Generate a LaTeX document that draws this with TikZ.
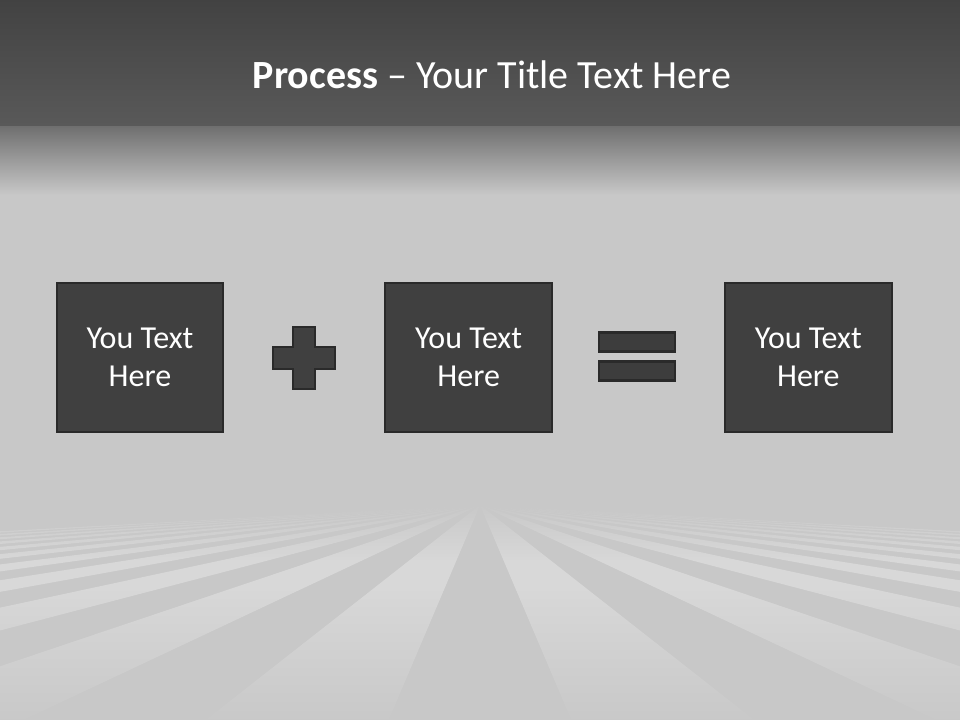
\documentclass[tikz,border=0pt]{standalone}
\usepackage{fontspec}
\setmainfont{Carlito}
\usepackage{xcolor}
\usepackage{tikz}
\usetikzlibrary{calc,positioning,fadings}

\definecolor{bgcol}{HTML}{C8C8C8}
\definecolor{boxcol}{HTML}{404040}
\definecolor{edgecol}{HTML}{2A2A2A}

\tikzfading[name=fadetop, top color=transparent!0, bottom color=transparent!100]
\tikzfading[name=fadebot, top color=transparent!100, bottom color=transparent!5]

\begin{document}
\begin{tikzpicture}[x=0.75pt,y=-0.75pt,node distance=120pt,
  textbox/.style={draw=edgecol, fill=boxcol, line width=1.5pt, minimum width=125pt,
    minimum height=111pt, align=center, text=white, font=\fontsize{24}{29}\selectfont},
  bar/.style={draw=edgecol, fill=boxcol!95!black, line width=2.2pt, minimum width=57pt,
    minimum height=14.5pt, inner sep=0pt},
  sign/.style={draw=edgecol, fill=boxcol, line width=1.5pt, line join=miter}]

  \useasboundingbox (0,0) rectangle (960,720);
  \begin{scope}
    \clip (0,0) rectangle (960,720);
    % background and title band
    \fill[bgcol] (0,0) rectangle (960,720);
    \shade[top color=black!74, bottom color=black!65] (0,0) rectangle (960,127);
    \shade[top color=black!56, bottom color=bgcol] (0,127) rectangle (960,195);

    % floor stripes
    \coordinate(V) at (480,505);
    \foreach \k in {-21,-19,...,21}
      \fill[white, opacity=0.3] (V) -- ++({(\k-0.5)*0.85*300},300) -- ++({0.85*300},0) -- cycle;
    \fill[bgcol, path fading=fadetop] (0,503) rectangle (960,560);
    \fill[bgcol, path fading=fadebot] (0,590) rectangle (960,720);
  \end{scope}

  \node(T) at (492,75) [text=white, font=\fontsize{30}{36}\selectfont] {\textbf{Process} – Your Title Text Here};

  \node(A)[textbox] at (140,357.5) {You Text\\Here};
  \node(B)[textbox,right=of A] {You Text\\Here};
  \node(C)[textbox,right=of B,xshift=8.25pt] {You Text\\Here};

  % plus
  \coordinate(P) at ($(A.east)!0.5!(B.west)$);
  \draw[sign] (P) ++(-11,-31) -- ++(22,0) -- ++(0,20) -- ++(20,0) -- ++(0,22) -- ++(-20,0)
    -- ++(0,20) -- ++(-22,0) -- ++(0,-20) -- ++(-20,0) -- ++(0,-22) -- ++(20,0) -- cycle;

  % equals
  \coordinate(Q) at ($(B.east)!0.5!(C.west)$);
  \node(E1)[bar] at ($(Q)+(-1.5,-15.5)$) {};
  \node(E2)[bar] at ($(Q)+(-1.5,13.5)$) {};
\end{tikzpicture}
\end{document}
